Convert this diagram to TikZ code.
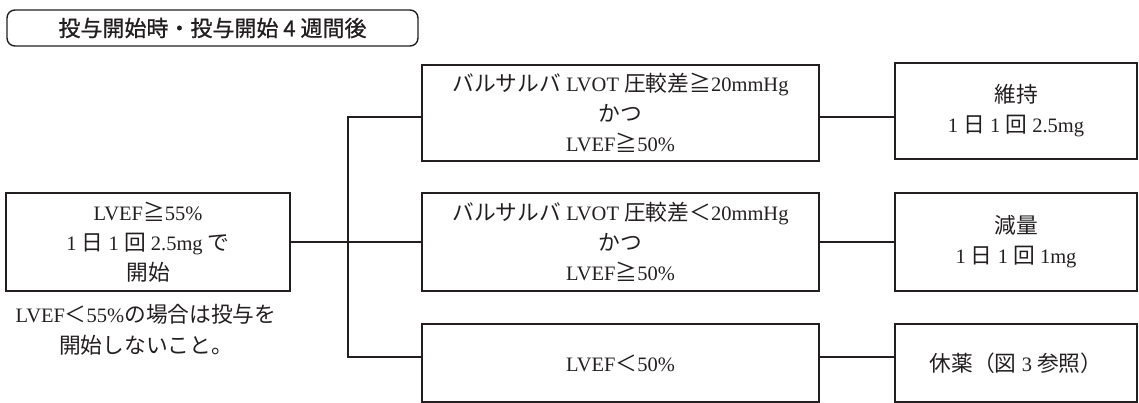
\documentclass[tikz,border=0pt]{standalone}
\usepackage{fontspec}
\setmainfont{Liberation Serif}
\newfontfamily\cjk[Scale=1.06]{Noto Sans CJK JP}
\newfontfamily\cjkt[FakeBold=0.9]{Noto Sans CJK JP}
\newcommand{\J}[1]{{\cjk #1}}
\definecolor{ink}{RGB}{35,31,32}
\begin{document}
\begin{tikzpicture}[x=1pt,y=-1pt,
  box/.style={draw=ink, text=ink, line width=2pt, inner sep=0pt, align=center,
    font=\fontsize{20.5}{30}\selectfont},
  conn/.style={draw=ink, line width=2pt, line join=miter},
  plain/.style={text=ink, inner sep=0pt, align=center, font=\fontsize{20.5}{31}\selectfont}]
\useasboundingbox (0,0) rectangle (1139,403);
% title
\node[draw=ink, text=ink, rounded corners=8pt, line width=1.4pt, minimum width=411pt,
  minimum height=36pt, inner sep=0pt, font=\cjkt\fontsize{22}{26}\selectfont] (t) at (212.5,28)
  {投与開始時・投与開始 4 週間後};
% start box
\node[box, minimum width=284pt, minimum height=98pt] (s) at (148,242)
  {LVEF\J{≧}55\%\\1 \J{日} 1 \J{回} 2.5mg \J{で}\\\J{開始}};
\node[plain] (note) at (146,330)
  {LVEF\J{＜}55\%\J{の場合は投与を}\\\J{開始しないこと。}};
% middle boxes
\node[box, minimum width=397pt, minimum height=96pt] (m1) at (620.5,113)
  {\J{バルサルバ} LVOT \J{圧較差≧}20mmHg\\\J{かつ}\\LVEF\J{≧}50\%};
\node[box, minimum width=397pt, minimum height=98pt] (m2) at (620.5,242)
  {\J{バルサルバ} LVOT \J{圧較差＜}20mmHg\\\J{かつ}\\LVEF\J{≧}50\%};
\node[box, minimum width=397pt, minimum height=78pt] (m3) at (620.5,363)
  {LVEF\J{＜}50\%};
% right boxes
\node[box, minimum width=242pt, minimum height=96pt] (r1) at (1016,111)
  {\J{維持}\\1 \J{日} 1 \J{回} 2.5mg};
\node[box, minimum width=242pt, minimum height=98pt] (r2) at (1016,242)
  {\J{減量}\\1 \J{日} 1 \J{回} 1mg};
\node[box, minimum width=242pt, minimum height=78pt] (r3) at (1016,363)
  {\J{休薬（図} 3 \J{参照）}};
% junctions
\coordinate (j1) at (348,117);
\coordinate (j2) at (348,242);
\coordinate (j3) at (348,357);
% connectors
\draw[conn] (s.east) -- (j2);
\draw[conn] (m1.west |- j1) -- (j1) -- (j3) -- (m3.west |- j3);
\draw[conn] (j2) -- (m2.west);
\draw[conn] (m1.east |- j1) -- (r1.west |- j1);
\draw[conn] (m2.east) -- (r2.west);
\draw[conn] (m3.east |- j3) -- (r3.west |- j3);
\end{tikzpicture}
\end{document}
